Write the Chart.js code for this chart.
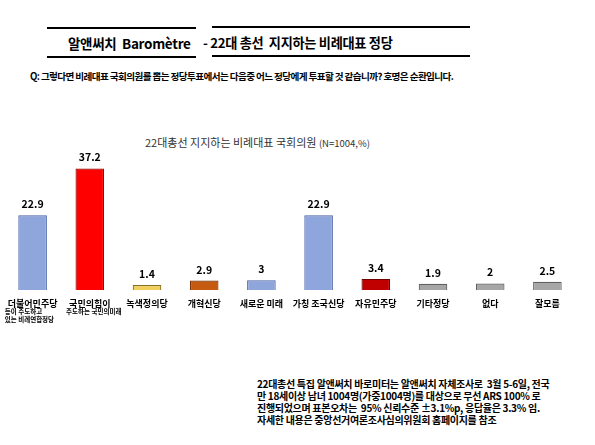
<!DOCTYPE html>
<html>
<head>
<meta charset="utf-8">
<script src="https://cdn.jsdelivr.net/npm/chart.js@4/dist/chart.umd.min.js"></script>
<style>
  body { margin: 0; width: 595px; height: 445px; background: #fff; position: relative; overflow: hidden;
         font-family: "Noto Sans CJK KR", "Noto Sans", sans-serif; color: #000; }
  .abs { position: absolute; white-space: nowrap; }
  .rule { position: absolute; height: 2px; background: #000; }
  #head1 { left: 68px; top: 34px; font-size: 13.5px; font-weight: bold; letter-spacing: -0.3px; line-height: 18px; }
  #head2 { left: 203px; top: 34px; font-size: 13.2px; font-weight: bold; letter-spacing: -0.3px; line-height: 18px; }
  #question { left: 30px; top: 69px; font-size: 9.6px; font-weight: bold; letter-spacing: -0.6px; line-height: 14px; }
  #ctitle { left: 145px; top: 134px; font-size: 11px; color: #333; }
  #ctitle small { font-size: 9.5px; }
  .note { left: 257px; font-size: 10px; font-weight: bold; line-height: 12px; letter-spacing: -0.3px; }
  #wrap { position: absolute; left: 0; top: 140px; width: 595px; height: 200px; }
</style>
</head>
<body>
<div class="rule" style="left:47px; top:27px; width:149px;"></div>
<div class="rule" style="left:47px; top:56px; width:149px;"></div>
<div class="rule" style="left:212px; top:26px; width:258px;"></div>
<div class="rule" style="left:212px; top:55px; width:258px;"></div>
<div class="abs" id="head1">알앤써치 &nbsp;Baromètre</div>
<div class="abs" id="head2">- 22대 총선 &nbsp;지지하는 비례대표 정당</div>
<div class="abs" id="question">Q: 그렇다면 비례대표 국회의원를 뽑는 정당투표에서는 다음중 어느 정당에게 투표할 것 같습니까? 호명은 순환입니다.</div>
<div class="abs" id="ctitle">22대총선 지지하는 비례대표 국회의원 <small>(N=1004,%)</small></div>
<div id="wrap"><canvas id="barChart" width="595" height="200"></canvas></div>
<div class="abs note" style="top:378px;">22대총선 특집 알앤써치 바로미터는 알앤써치 자체조사로 &nbsp;3월 5-6일, 전국</div>
<div class="abs note" style="top:390px;">만 18세이상 남녀 1004명(가중1004명)를 대상으로 무선 ARS 100% 로</div>
<div class="abs note" style="top:402px;">진행되었으며 표본오차는 &nbsp;95% 신뢰수준 ±3.1%p, 응답율은 3.3% 임.</div>
<div class="abs note" style="top:414px;">자세한 내용은 중앙선거여론조사심의위원회 홈페이지를 참조</div>

<script>
const parties = ["더불어민주당", "국민의힘이", "녹색정의당", "개혁신당", "새로운 미래",
                 "가칭 조국신당", "자유민주당", "기타정당", "없다", "잘모름"];
const subLabels = [["등이 주도하고", "있는 비례연합정당"], ["주도하는 국민의미래"], [], [], [], [], [], [], [], []];
const support = [22.9, 37.2, 1.4, 2.9, 3, 22.9, 3.4, 1.9, 2, 2.5];
const fills = ["#8fa6dc", "#ff0000", "#f0cf5a", "#c55a11", "#8fa6dc", "#8fa6dc", "#c00000", "#a6a6a6", "#a6a6a6", "#a6a6a6"];
const edges = ["#4a62a8", "#a00000", "#8a7020", "#7a3508", "#4a62a8", "#4a62a8", "#700000", "#606060", "#606060", "#606060"];

const fontFam = "'Noto Sans CJK KR', sans-serif";

// value labels above bars + category names (with small second lines) under the axis
const labelPlugin = {
    id: "barLabels",
    afterDatasetsDraw(chart) {
        const ctx = chart.ctx;
        const meta = chart.getDatasetMeta(0);
        const xs = chart.scales.x;
        ctx.save();
        ctx.fillStyle = "#000";
        ctx.textAlign = "center";
        ctx.textBaseline = "middle";
        ctx.font = "bold 10.5px " + fontFam;
        meta.data.forEach((bar, i) => {
            ctx.fillText(String(support[i]), bar.x, bar.y - 11);
        });
        const mainMid = xs.top + 13.5;
        parties.forEach((name, i) => {
            const cx = xs.getPixelForTick(i);
            ctx.font = "bold 9px " + fontFam;
            ctx.textAlign = "center";
            ctx.fillText(name, cx, mainMid);
            const left = cx - ctx.measureText(name).width / 2 - 3;
            ctx.font = "bold 6.5px " + fontFam;
            ctx.textAlign = "left";
            subLabels[i].forEach((t, j) => {
                ctx.fillText(t, left, mainMid + 8 + j * 8);
            });
        });
        ctx.restore();
    }
};

new Chart(document.getElementById("barChart"), {
    type: "bar",
    data: {
        labels: parties,
        datasets: [{
            data: support,
            backgroundColor: fills,
            borderColor: edges,
            borderWidth: 1.2,
            barPercentage: 0.5,
            categoryPercentage: 1.0,
            minBarLength: 5
        }]
    },
    options: {
        responsive: false,
        animation: false,
        layout: { padding: { left: 4, right: 19, top: 3, bottom: 50 } },
        plugins: {
            legend: { display: false },
            tooltip: { enabled: false }
        },
        scales: {
            y: { display: false, min: 0, max: 45 },
            x: {
                grid: { display: false, drawTicks: false },
                border: { display: false },
                ticks: { display: false }
            }
        }
    },
    plugins: [labelPlugin]
});
</script>
</body>
</html>
